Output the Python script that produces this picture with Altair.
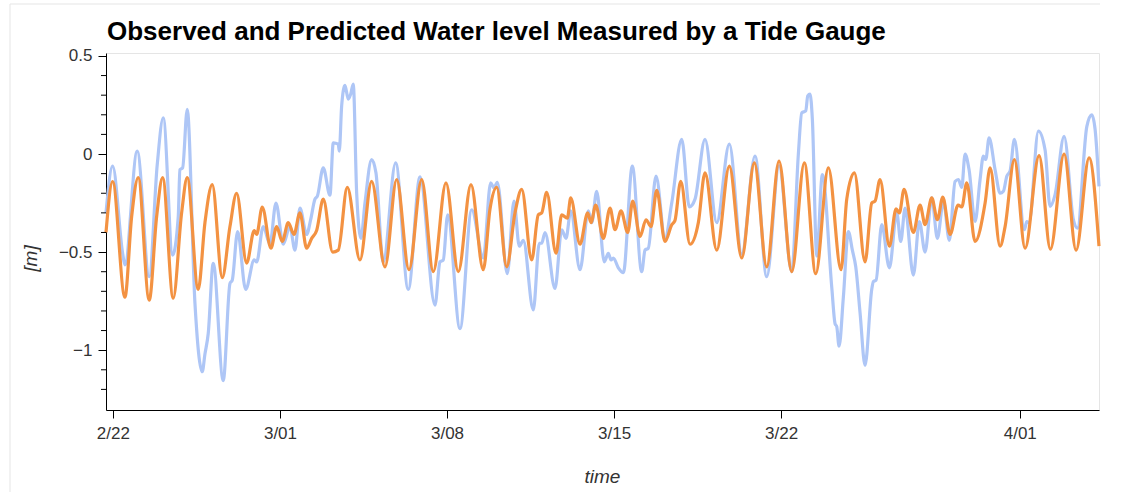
import altair as alt
import pandas as pd

TITLE = "Observed and Predicted Water level Measured by a Tide Gauge"

# ---- data (day offsets from 2022-02-22 00:00, water level in m) ----
pred_day = [-0.29, -0.013, 0.503, 0.784, 1.060, 1.521, 1.831, 2.083, 2.527, 2.879, 3.114, 3.575,
            3.856, 4.162, 4.581, 4.904, 5.184, 5.604, 5.922, 6.023, 6.257, 6.622, 6.861, 7.096,
            7.347, 7.586, 7.837, 8.118, 8.328, 8.537, 8.814, 9.208, 9.443, 9.820, 10.352, 10.842,
            11.400, 11.890, 12.406, 12.938, 13.424, 13.956, 14.472, 15.004, 15.520, 15.801, 16.082,
            16.500, 16.848, 17.129, 17.548, 17.825, 17.967, 18.177, 18.567, 18.806, 19.041, 19.183,
            19.573, 19.895, 20.034, 20.231, 20.549, 20.830, 21.040, 21.291, 21.572, 21.781, 22.087,
            22.339, 22.548, 22.787, 23.135, 23.42, 23.55, 23.793, 24.183, 24.531, 24.811, 25.302,
            25.830, 26.350, 26.878, 27.397, 27.913, 28.445, 28.973, 29.451, 29.979, 30.511, 30.750,
            31.069, 31.517, 31.798, 31.936, 32.146, 32.536, 32.816, 32.955, 33.152, 33.542, 33.822,
            34.032, 34.313, 34.548, 34.774, 35.080, 35.415, 35.570, 35.780, 36.128, 36.547, 36.757,
            37.176, 37.385, 37.775, 38.223, 38.810, 39.284, 39.858, 40.360, 40.905, 41.32]
pred_val = [-0.40, -0.14, -0.73, -0.32, -0.12, -0.745, -0.32, -0.12, -0.735, -0.30, -0.12, -0.69,
            -0.35, -0.156, -0.63, -0.37, -0.20, -0.556, -0.39, -0.41, -0.27, -0.48, -0.37, -0.446,
            -0.35, -0.41, -0.30, -0.48, -0.43, -0.39, -0.23, -0.50, -0.49, -0.17, -0.54, -0.139,
            -0.575, -0.13, -0.59, -0.13, -0.60, -0.147, -0.60, -0.156, -0.59, -0.28, -0.17,
            -0.575, -0.30, -0.18, -0.54, -0.31, -0.30, -0.195, -0.506, -0.31, -0.327, -0.224,
            -0.46, -0.30, -0.35, -0.26, -0.43, -0.276, -0.386, -0.29, -0.40, -0.24, -0.42,
            -0.335, -0.37, -0.185, -0.446, -0.36, -0.34, -0.139, -0.46, -0.35, -0.096, -0.49,
            -0.062, -0.53, -0.045, -0.575, -0.036, -0.60, -0.045, -0.61, -0.07, -0.59, -0.23,
            -0.096, -0.55, -0.25, -0.24, -0.13, -0.47, -0.28, -0.30, -0.18, -0.40, -0.26,
            -0.36, -0.224, -0.335, -0.22, -0.41, -0.26, -0.27, -0.147, -0.446, -0.25, -0.07,
            -0.47, -0.37, -0.028, -0.48, -0.008, -0.485, 0.0, -0.49, -0.02, -0.47]

obs_day = [-0.29, -0.013, 0.407, 0.503, 1.018, 1.521, 1.857, 2.108, 2.502, 2.737, 2.808, 2.921,
           3.114, 3.437, 3.743, 3.856, 3.994, 4.204, 4.623, 4.904, 5.000, 5.226, 5.562, 5.922,
           6.023, 6.299, 6.580, 6.832, 7.137, 7.418, 7.628, 7.837, 8.118, 8.286, 8.466, 8.563,
           8.814, 9.095, 9.233, 9.443, 9.485, 9.585, 9.723, 9.862, 9.962, 10.071, 10.214, 10.394,
           10.562, 10.842, 11.022, 11.328, 11.848, 12.376, 12.867, 13.496, 13.705, 13.843, 14.028,
           14.543, 15.034, 15.520, 15.830, 15.968, 16.106, 16.525, 16.806, 17.028, 17.196, 17.615,
           17.867, 17.967, 18.106, 18.525, 18.806, 18.986, 19.183, 19.573, 19.921, 20.063, 20.272,
           20.591, 20.759, 20.872, 20.968, 21.178, 21.388, 21.765, 22.158, 22.297, 22.435, 22.758,
           23.135, 23.416, 23.835, 24.154, 24.392, 24.811, 25.302, 25.830, 26.350, 26.907, 27.397,
           27.913, 28.445, 28.722, 28.864, 29.032, 29.116, 29.212, 29.309, 29.493, 29.728, 30.122,
           30.260, 30.331, 30.428, 30.608, 30.818, 30.985, 31.127, 31.308, 31.517, 31.798, 31.865,
           31.978, 32.217, 32.536, 32.846, 33.013, 33.194, 33.542, 33.793, 34.032, 34.313, 34.548,
           34.799, 35.050, 35.289, 35.427, 35.570, 35.708, 35.876, 36.127, 36.337, 36.475, 36.576,
           36.714, 36.966, 37.176, 37.314, 37.456, 37.594, 37.775, 38.194, 38.295, 38.391, 38.781,
           39.061, 39.270, 39.480, 39.858, 40.247, 40.415, 40.809, 41.018, 41.157, 41.32]
obs_val = [-0.30, -0.062, -0.506, -0.565, 0.015, -0.625, -0.054, 0.185, -0.515, -0.32, -0.08, -0.07,
           0.228, -0.76, -1.11, -1.02, -0.915, -0.557, -1.155, -0.66, -0.643, -0.395, -0.69, -0.54,
           -0.55, -0.37, -0.46, -0.25, -0.46, -0.37, -0.49, -0.276, -0.41, -0.335, -0.23, -0.216,
           -0.07, -0.21, 0.057, 0.05, 0.015, 0.245, 0.35, 0.28, 0.305, 0.356, -0.20, -0.43,
           -0.25, -0.028, -0.096, -0.55, -0.045, -0.69, -0.117, -0.77, -0.55, -0.54, -0.31,
           -0.89, -0.284, -0.53, -0.147, -0.173, -0.144, -0.61, -0.24, -0.47, -0.44, -0.795,
           -0.455, -0.455, -0.40, -0.685, -0.386, -0.43, -0.29, -0.59, -0.29, -0.35, -0.19,
           -0.55, -0.506, -0.54, -0.53, -0.58, -0.605, -0.062, -0.60, -0.49, -0.48, -0.113,
           -0.43, -0.25, 0.075, -0.27, -0.23, 0.075, -0.35, 0.05, -0.51, -0.01, -0.625,
           -0.06, -0.60, 0.0, 0.21, 0.22, 0.296, 0.305, 0.177, -0.52, -0.105, -0.68,
           -0.865, -0.88, -0.98, -0.73, -0.395, -0.49, -0.575, -0.81, -1.077, -0.69, -0.65,
           -0.643, -0.36, -0.58, -0.30, -0.446, -0.276, -0.617, -0.344, -0.50, -0.224, -0.43,
           -0.24, -0.44, -0.14, -0.13, -0.17, 0.0, -0.08, -0.344, -0.13, -0.01, -0.028,
           0.083, -0.08, -0.20, -0.19, -0.113, -0.087, 0.075, -0.386, -0.344, -0.35, 0.117,
           0.02, -0.267, -0.207, 0.09, -0.335, -0.378, 0.14, 0.20, 0.125, -0.165]

x_ticks = ["2022-02-22", "2022-03-01", "2022-03-08", "2022-03-15", "2022-03-22", "2022-04-01"]
y_ticks = [0.5, 0.0, -0.5, -1.0]
y_minor = [0.4, 0.3, 0.2, 0.1, -0.1, -0.2, -0.3, -0.4, -0.6, -0.7, -0.8, -0.9, -1.1, -1.2]

base = pd.Timestamp("2022-02-22")


def to_time(days):
    return [(base + pd.to_timedelta(d, unit="D")).strftime("%Y-%m-%dT%H:%M:%SZ") for d in days]


obs_df = pd.DataFrame({"t": to_time(obs_day), "v": obs_val})
pred_df = pd.DataFrame({"t": to_time(pred_day), "v": pred_val})
minor_df = pd.DataFrame({"v": y_minor})
title_df = pd.DataFrame({"txt": [TITLE]})

x_dom = [to_time([-0.29])[0], to_time([41.32])[0]]
x_scale = alt.Scale(type="utc", domain=x_dom, nice=False)
y_scale = alt.Scale(domain=[-1.305, 0.515], nice=False, zero=False)

FONT = "Liberation Sans"

x_axis = alt.Axis(
    values=[pd.Timestamp(s).value // 10**6 for s in x_ticks],
    labelExpr="utcFormat(datum.value, '%-m/%d')", grid=False,
    labelFontSize=17, labelColor="#333333", labelPadding=7, tickSize=8,
    domainColor="black", tickColor="black",
    title="time", titleFontSize=19, titleFontStyle="italic", titleFontWeight="normal",
    titleColor="#333333", titleX=496, titleY=66, titleBaseline="middle",
)
y_axis = alt.Axis(
    values=y_ticks, format="~g", grid=False,
    labelFontSize=17, labelColor="#333333", labelPadding=6, tickSize=8,
    domainColor="black", tickColor="black",
    title="[m]", titleFontSize=19, titleFontStyle="italic", titleFontWeight="normal",
    titleColor="#333333", titleX=-76, titleY=205, titleAngle=-90, titleBaseline="middle",
    titleAlign="center",
)

obs_line = alt.Chart(obs_df).mark_line(
    color="#aec6f6", strokeWidth=3.2, interpolate="monotone"
).encode(
    x=alt.X("t:T", scale=x_scale, axis=x_axis),
    y=alt.Y("v:Q", scale=y_scale, axis=y_axis),
)

pred_line = alt.Chart(pred_df).mark_line(
    color="#f39242", strokeWidth=3.2, interpolate="monotone"
).encode(
    x=alt.X("t:T", scale=x_scale),
    y=alt.Y("v:Q", scale=y_scale),
)

minor_ticks = alt.Chart(minor_df).mark_rule(color="black", strokeWidth=1).encode(
    y=alt.Y("v:Q", scale=y_scale),
    x=alt.value(-5),
    x2=alt.value(0),
)

# light outer frame (top and left edges of the figure box)
frame_top = alt.Chart(title_df).mark_rule(color="#e5e5e5", strokeWidth=1).encode(
    x=alt.value(-96), x2=alt.value(994), y=alt.value(-49),
)
frame_left = alt.Chart(title_df).mark_rule(color="#e5e5e5", strokeWidth=1).encode(
    x=alt.value(-96), y=alt.value(-49), y2=alt.value(440),
)

title_text = alt.Chart(title_df).mark_text(
    align="left", baseline="alphabetic", fontSize=26, fontWeight="bold",
    font=FONT, color="black",
).encode(
    x=alt.value(1), y=alt.value(-13), text="txt:N",
)

chart = alt.layer(frame_top, frame_left, obs_line, pred_line, minor_ticks, title_text).properties(
    width=993,
    height=357,
    autosize=alt.AutoSizeParams(type="none"),
    padding={"left": 106, "top": 53, "right": 33, "bottom": 82},
).configure(
    font=FONT,
).configure_view(
    stroke="#e5e5e5", strokeWidth=1,
).configure_axis(
    labelFont=FONT, titleFont=FONT,
)

chart.save("out.html", embed_options={"renderer": "svg", "actions": False})
